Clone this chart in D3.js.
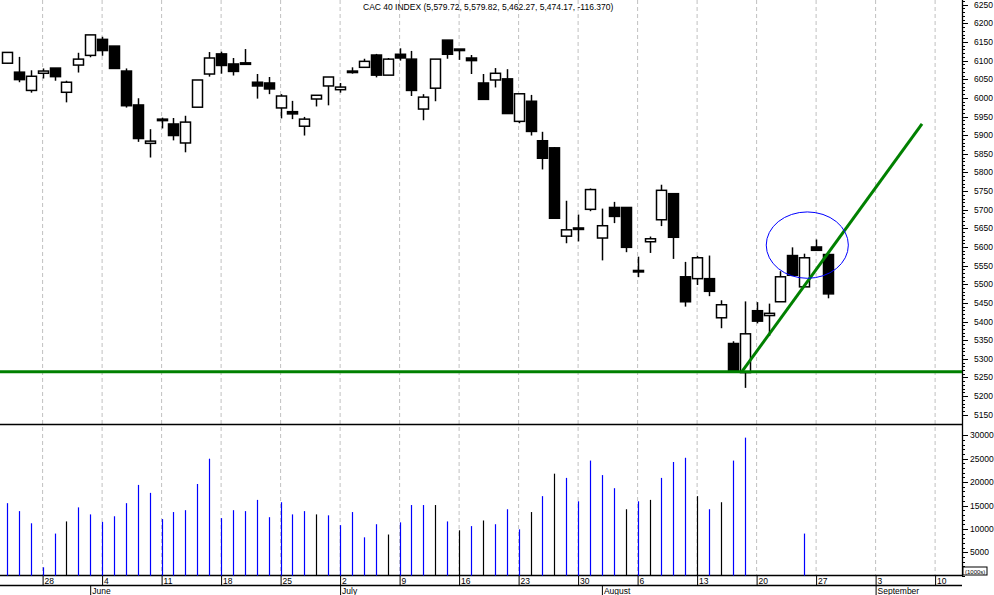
<!DOCTYPE html>
<html>
<head>
<meta charset="utf-8">
<script src="https://cdn.jsdelivr.net/npm/d3@7"></script>
<style>
body { margin:0; background:#fff; }
text { font-family: "Liberation Sans", Arial, sans-serif; font-size: 8.5px; fill:#000; }
</style>
</head>
<body>
<svg id="chart" width="994" height="595"></svg>
<script>
// CAC 40 daily, trading day index 0 = Wed 23 May 2007
var opens  = [6093,6069,6020,6066,6080,6015,6088,6114,6157,6139,6072,5981,5878,5943,5930,5879,5975,6064,6118,6091,
              6094,6042,6040,5973,5963,5924,5997,6032,6022,6071,6082,6115,6061,6117,6104,5970,6026,6155,6131,6107,
              6040,6048,6051,5937,5991,5885,5866,5629,5651,5701,5624,5706,5706,5537,5614,5673,5743,5520,5515,5515,
              5410,5341,5263,5429,5416,5453,5577,5493,5600,5579.72];
var highs  = [6123,6110,6074,6079,6080,6046,6121,6169,6164,6139,6079,5999,5916,5947,5946,5952,6048,6123,6124,6107,
              6131,6064,6056,6010,5992,5949,6007,6056,6040,6082,6105,6118,6107,6133,6126,6010,6104,6155,6131,6115,
              6064,6080,6077,6011,6008,5909,5868,5724,5687,5757,5703,5721,5706,5574,5628,5767,5743,5560,5576,5577,
              5457,5347,5454,5452,5448,5535,5599,5582,5620,5579.82];
var lows   = [6091,6042,6014,6052,6046,5988,6068,6109,6113,6079,5974,5882,5840,5918,5886,5854,5975,6057,6065,6060,
              6093,5998,6010,5945,5943,5899,5977,5980,6014,6065,6082,6055,6061,6100,6005,5940,5991,6105,6102,6064,
              5996,6028,5958,5932,5899,5808,5677,5610,5615,5696,5564,5664,5586,5519,5584,5656,5568,5440,5498,5468,
              5382,5268,5222,5395,5361,5453,5524,5493,5591,5462.27];
var closes = [6122,6049,6058,6072,6057,6042,6104,6169,6127,6079,5979,5891,5884,5941,5899,5935,6048,6107,6087,6071,
              6092,6032,6024,6005,5957,5943,6007,6056,6029,6072,6098,6061,6104,6107,6020,6002,6104,6117,6127,6100,
              5996,6066,5958,6011,5910,5838,5677,5646,5647,5754,5657,5682,5599,5535,5622,5752,5626,5453,5571,5481,
              5445,5268,5367,5401,5422,5520,5524,5571,5591,5474.17];
// volume in thousands, null = no print
var volumes = [15500,13800,11200,1800,9000,11600,14600,13100,11500,12700,15500,19400,17700,12100,13600,14000,19600,25000,12300,14000,
               13800,16200,12500,15700,13100,13800,13100,12900,10800,13600,8200,11000,8800,11400,15100,15100,15100,11600,9700,10600,
               11800,11000,14200,9900,13600,17000,21800,20900,15900,24600,21500,18700,14200,15900,16200,20900,24300,25200,17000,14200,
               15700,24600,29500,null,null,null,null,9000,null,null];
var volDark = [5,26,32,36,38,40,44,46,52,54,58,60];

var weekIdx = [3,8,13,18,23,28,33,38,43,48,53,58,63,68,73,78];
var weekLabels = ["28","4","11","18","25","2","9","16","23","30","6","13","20","27","3","10"];
var monthIdx = [7,28,50,73];
var monthLabels = ["June","July","August","September"];
var priceTicks = d3.range(5150, 6251, 50);
var volTicks = [5000,10000,15000,20000,25000,30000];
var title = "CAC 40 INDEX (5,579.72, 5,579.82, 5,462.27, 5,474.17, -116.370)";
// drawn annotations: support line, trend line, circle
var supportLevel = 5265;
var trendFrom = [61.75, 5265], trendTo = [76.9, 5930];
var circle = {i:67.26, p:5605, ri:3.45, rp:89};

var svg = d3.select("#chart");
var axisX = 962;
var x = d3.scaleLinear().domain([0, 80]).range([6.9, 6.9 + 80*11.9]);
var y = d3.scaleLinear().domain([5150, 6250]).range([414.7, 4.7]);
var yv = d3.scaleLinear().domain([0, 30000]).range([575.7, 435.3]);

// grid
svg.append("g").selectAll("line").data(weekIdx).enter().append("line")
  .attr("x1", d => x(d)).attr("x2", d => x(d)).attr("y1", 0).attr("y2", 575)
  .attr("stroke", "#c0c0c0").attr("stroke-dasharray", "4,3");

// panel separators
svg.append("line").attr("x1",0).attr("x2",axisX).attr("y1",424.5).attr("y2",424.5).attr("stroke","#000").attr("stroke-width",1.3);
svg.append("line").attr("x1",0).attr("x2",axisX).attr("y1",575.5).attr("y2",575.5).attr("stroke","#000").attr("stroke-width",1.3);
svg.append("line").attr("x1",0).attr("x2",axisX).attr("y1",585.5).attr("y2",585.5).attr("stroke","#000").attr("stroke-width",1.3);

// right axes
var minor = d3.range(5150, 6261, 10);
var ga = svg.append("g");
ga.append("line").attr("x1",axisX+0.5).attr("x2",axisX+0.5).attr("y1",0).attr("y2",576).attr("stroke","#000").attr("stroke-width",1.3);
ga.selectAll(".mn").data(minor).enter().append("line")
  .attr("x1",axisX).attr("x2",axisX+3).attr("y1",d=>Math.round(y(d))+0.5).attr("y2",d=>Math.round(y(d))+0.5).attr("stroke","#000");
ga.selectAll(".mj").data(priceTicks).enter().append("line")
  .attr("x1",axisX).attr("x2",axisX+6).attr("y1",d=>Math.round(y(d))+0.5).attr("y2",d=>Math.round(y(d))+0.5).attr("stroke","#000");
ga.selectAll(".pl").data(priceTicks).enter().append("text")
  .attr("x",axisX+12).attr("y",d=>y(d)+3).text(d=>d);
var vminor = d3.range(0, 31000, 1000);
ga.selectAll(".vmn").data(vminor).enter().append("line")
  .attr("x1",axisX).attr("x2",axisX+3).attr("y1",d=>Math.round(yv(d))+0.5).attr("y2",d=>Math.round(yv(d))+0.5).attr("stroke","#000");
ga.selectAll(".vmj").data(volTicks).enter().append("line")
  .attr("x1",axisX).attr("x2",axisX+6).attr("y1",d=>Math.round(yv(d))+0.5).attr("y2",d=>Math.round(yv(d))+0.5).attr("stroke","#000");
ga.selectAll(".vl").data(volTicks).enter().append("text")
  .attr("x",axisX+8).attr("y",d=>yv(d)+3).text(d=>d);
ga.append("rect").attr("x",axisX+1).attr("y",567).attr("width",24).attr("height",8).attr("fill","#fff").attr("stroke","#000");
ga.append("text").attr("x",axisX+3).attr("y",574).style("font-size","6px").text("(1000s)");

// x axis labels
var gx = svg.append("g");
gx.selectAll(".wt").data(weekIdx).enter().append("line")
  .attr("x1",d=>x(d)+0.5).attr("x2",d=>x(d)+0.5).attr("y1",576).attr("y2",585).attr("stroke","#000");
gx.selectAll(".wl").data(weekIdx).enter().append("text")
  .attr("x",d=>x(d)+2).attr("y",583.5).text((d,i)=>weekLabels[i]);
gx.selectAll(".mt").data(monthIdx).enter().append("line")
  .attr("x1",d=>x(d)+0.5).attr("x2",d=>x(d)+0.5).attr("y1",586).attr("y2",595).attr("stroke","#000");
gx.selectAll(".ml").data(monthIdx).enter().append("text")
  .attr("x",d=>x(d)+2).attr("y",594).text((d,i)=>monthLabels[i]);

// volume
svg.append("g").selectAll("line").data(volumes.map((v,i)=>[i,v]).filter(d=>d[1]!=null)).enter().append("line")
  .attr("x1",d=>Math.round(x(d[0]))+0.5).attr("x2",d=>Math.round(x(d[0]))+0.5)
  .attr("y1",yv(0)).attr("y2",d=>yv(d[1]))
  .attr("stroke",d=>volDark.indexOf(d[0])>=0 ? "#000" : "#0000ff").attr("stroke-width",1.2);

// candles
var bw = 10;
var gc = svg.append("g");
opens.forEach(function(o, i) {
  var c = closes[i], cx = Math.round(x(i)) + 0.5;
  var up = c >= o;
  var top = y(Math.max(o, c)), bot = y(Math.min(o, c));
  gc.append("line").attr("x1",cx).attr("x2",cx).attr("y1",y(highs[i])).attr("y2",y(lows[i]))
    .attr("stroke","#000").attr("stroke-width",1.5);
  gc.append("rect").attr("x",cx-bw/2).attr("y",top).attr("width",bw).attr("height",Math.max(bot-top,1.5))
    .attr("fill", up ? "#fff" : "#000").attr("stroke","#000").attr("stroke-width",1.5);
});

// annotations
svg.append("line").attr("x1",0).attr("x2",axisX).attr("y1",y(supportLevel)).attr("y2",y(supportLevel))
  .attr("stroke","#008000").attr("stroke-width",3);
svg.append("line").attr("x1",x(trendFrom[0])).attr("y1",y(trendFrom[1])).attr("x2",x(trendTo[0])).attr("y2",y(trendTo[1]))
  .attr("stroke","#008000").attr("stroke-width",3);
svg.append("ellipse").attr("cx",x(circle.i)).attr("cy",y(circle.p))
  .attr("rx",x(circle.i+circle.ri)-x(circle.i)).attr("ry",y(circle.p-circle.rp)-y(circle.p))
  .attr("fill","none").attr("stroke","#0000ff").attr("stroke-width",1);

svg.append("text").attr("x",363).attr("y",10).text(title);
</script>
</body>
</html>
